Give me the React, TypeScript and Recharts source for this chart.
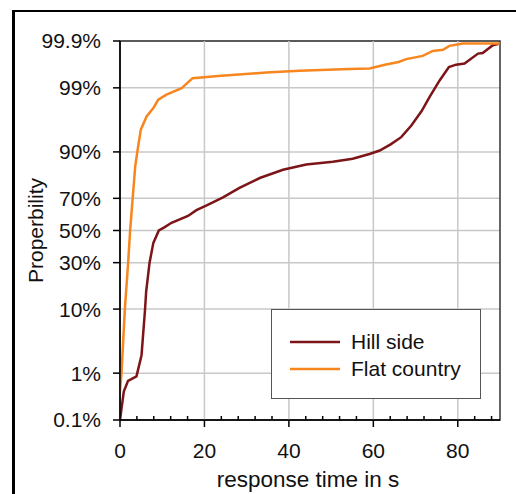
import React from "react";
import {
  LineChart,
  Line,
  XAxis,
  YAxis,
  CartesianGrid,
  ReferenceLine,
  ReferenceArea,
  Legend,
} from "recharts";

// response time in s / cumulative probability in %
const hillTime = [
  0, 0.9, 1.9, 3.9, 5.1, 5.9, 6.2, 7.0, 7.9, 9.2, 10.5, 12.2, 16.1, 18.1, 20.4,
  24.4, 28.3, 33.1, 38.6, 44.1, 50.4, 55.1, 59.1, 61.5, 64.1, 66.6, 69.0, 71.4,
  73.3, 75.7, 77.9, 79.6, 81.6, 84.8, 85.9, 88.3, 90,
];
const hillProb = [
  0.1, 0.43, 0.71, 0.87, 2.1, 9.4, 16, 30, 42, 50, 52, 55, 59.4, 63, 65.7, 70.5,
  75.6, 80.4, 83.9, 85.9, 86.9, 87.9, 89.4, 90.4, 92, 93.6, 95.65, 97.4, 98.52,
  99.28, 99.616, 99.658, 99.676, 99.804, 99.81, 99.874, 99.885,
];

const flatTime = [
  0, 0.36, 1.15, 1.93, 2.4, 3.0, 3.6, 4.1, 4.93, 6.3, 7.9, 9.05, 11.0, 14.6, 17.2,
  24, 34.6, 42.5, 54.3, 59.1, 63, 66, 67.8, 71.7, 74.1, 76.5, 78, 81.2, 90,
];
const flatProb = [
  0.44, 1, 10, 30, 50, 70, 85.1, 90, 95, 96.85, 97.7, 98.35, 98.66, 98.99, 99.35,
  99.42, 99.5, 99.54, 99.58, 99.59, 99.66, 99.7, 99.74, 99.78, 99.83, 99.84,
  99.87, 99.885, 99.885,
];

const seriesNames = ["Hill side", "Flat country"];
const probTicks = [0.1, 1, 10, 30, 50, 70, 90, 99, 99.9];
const probLabels = ["0.1%", "1%", "10%", "30%", "50%", "70%", "90%", "99%", "99.9%"];
const timeTicks = [0, 4, 8, 12, 16, 20, 24, 28, 32, 36, 40, 44, 48, 52, 56, 60, 64, 68, 72, 76, 80, 84, 88];
const timeLabels = [0, 20, 40, 60, 80];

const HILL = "#7d1518";
const FLAT = "#f7861f";
const FONT = "'Liberation Sans', Arial, sans-serif";

// inverse normal cdf (Acklam), used as the probability-paper scale
function probit(p: number) {
  const a = [-39.69683028665376, 220.9460984245205, -275.9285104469687, 138.357751867269, -30.66479806614716, 2.506628277459239];
  const b = [-54.47609879822406, 161.5858368580409, -155.6989798598866, 66.80131188771972, -13.28068155288572];
  const c = [-0.007784894002430293, -0.3223964580411365, -2.400758277161838, -2.549732539343734, 4.374664141464968, 2.938163982698783];
  const d = [0.007784695709041462, 0.3224671290700398, 2.445134137142996, 3.754408661907416];
  const pl = 0.02425;
  if (p < pl) {
    const q = Math.sqrt(-2 * Math.log(p));
    return (((((c[0] * q + c[1]) * q + c[2]) * q + c[3]) * q + c[4]) * q + c[5]) /
      ((((d[0] * q + d[1]) * q + d[2]) * q + d[3]) * q + 1);
  }
  if (p <= 1 - pl) {
    const q = p - 0.5;
    const r = q * q;
    return ((((((a[0] * r + a[1]) * r + a[2]) * r + a[3]) * r + a[4]) * r + a[5]) * q) /
      (((((b[0] * r + b[1]) * r + b[2]) * r + b[3]) * r + b[4]) * r + 1);
  }
  const q = Math.sqrt(-2 * Math.log(1 - p));
  return -(((((c[0] * q + c[1]) * q + c[2]) * q + c[3]) * q + c[4]) * q + c[5]) /
    ((((d[0] * q + d[1]) * q + d[2]) * q + d[3]) * q + 1);
}

const hillData = hillTime.map((t, i) => ({ t, z: probit(hillProb[i] / 100) }));
const flatData = flatTime.map((t, i) => ({ t, z: probit(flatProb[i] / 100) }));
const yTicks = probTicks.map((p) => probit(p / 100));

const XTick = (props: any) => {
  const { x, y, payload } = props;
  const major = timeLabels.includes(payload.value);
  if (!major) {
    return <line x1={x} x2={x} y1={y} y2={y - 4} stroke="#000" strokeWidth={1.5} />;
  }
  return (
    <g>
      <line x1={x} x2={x} y1={y} y2={y + 7} stroke="#000" strokeWidth={1.5} />
      <text x={x} y={y + 38} textAnchor="middle" fontSize={21} fontFamily={FONT} fill="#111">
        {payload.value}
      </text>
    </g>
  );
};

const renderLegend = (props: any) => {
  const items = [...(props.payload || [])].sort(
    (a: any, b: any) => seriesNames.indexOf(a.value) - seriesNames.indexOf(b.value)
  );
  return (
    <div
      style={{
        width: 210,
        height: 90,
        boxSizing: "border-box",
        border: "1px solid #555",
        background: "#fff",
        paddingTop: 18,
      }}
    >
      {items.map((entry: any) => (
        <div
          key={entry.value}
          style={{ display: "flex", alignItems: "center", height: 27, marginLeft: 18 }}
        >
          <svg width={50} height={4}>
            <line x1={0} x2={50} y1={2} y2={2} stroke={entry.color} strokeWidth={2.5} />
          </svg>
          <span
            style={{
              marginLeft: 11,
              fontSize: 21,
              fontFamily: FONT,
              color: "#111",
            }}
          >
            {entry.value}
          </span>
        </div>
      ))}
    </div>
  );
};

export default function App() {
  return (
    <div style={{ position: "absolute", left: 0, top: 0, width: 516, height: 494, background: "#fff" }}>
      <div
        style={{
          position: "absolute",
          left: 12,
          top: 10,
          width: 504,
          height: 484,
          boxSizing: "border-box",
          borderLeft: "3px solid #000",
          borderTop: "2px solid #000",
        }}
      />
      <div style={{ position: "absolute", left: 0, top: 0 }}>
        <LineChart
          width={516}
          height={494}
          margin={{ top: 41, right: 16, bottom: 24, left: 0 }}
        >
          <CartesianGrid vertical={false} stroke="#c8c8c8" strokeWidth={1.5} />
          {timeLabels.slice(1).map((v) => (
            <ReferenceLine key={v} x={v} stroke="#c8c8c8" strokeWidth={1.5} />
          ))}
          <XAxis
            type="number"
            dataKey="t"
            domain={[0, 90]}
            ticks={timeTicks}
            interval={0}
            allowDataOverflow
            tickLine={false}
            tickSize={0}
            tickMargin={0}
            height={50}
            tick={<XTick />}
            axisLine={{ stroke: "#000", strokeWidth: 1.5 }}
            label={(p: any) => {
              const vb = p.viewBox;
              return (
                <text
                  x={vb.x + vb.width / 2 - 2}
                  y={vb.y + 67}
                  textAnchor="middle"
                  fontSize={22.5}
                  fontFamily={FONT}
                  fill="#111"
                >
                  response time in s
                </text>
              );
            }}
          />
          <YAxis
            type="number"
            dataKey="z"
            domain={[yTicks[0], yTicks[yTicks.length - 1]]}
            ticks={yTicks}
            interval={0}
            allowDataOverflow
            width={120}
            tickSize={7}
            tickMargin={12}
            tickFormatter={(_v: number, i: number) => probLabels[i]}
            tick={{ fontSize: 21, fontFamily: FONT, fill: "#111" }}
            tickLine={{ stroke: "#000", strokeWidth: 1.5 }}
            axisLine={{ stroke: "#000", strokeWidth: 1.5 }}
            label={(p: any) => {
              const vb = p.viewBox;
              const cx = vb.x + 35;
              const cy = vb.y + vb.height / 2;
              return (
                <text
                  x={cx}
                  y={cy}
                  transform={`rotate(-90 ${cx} ${cy})`}
                  textAnchor="middle"
                  dominantBaseline="central"
                  fontSize={21}
                  fontFamily={FONT}
                  fill="#111"
                >
                  Properbility
                </text>
              );
            }}
          />
          <ReferenceArea
            x1={0}
            x2={90}
            y1={yTicks[0]}
            y2={yTicks[yTicks.length - 1]}
            fill="none"
            stroke="#333"
            strokeWidth={1.5}
          />
          <Line
            data={hillData}
            dataKey="z"
            name="Hill side"
            stroke={HILL}
            strokeWidth={2.5}
            dot={false}
            type="linear"
            isAnimationActive={false}
          />
          <Line
            data={flatData}
            dataKey="z"
            name="Flat country"
            stroke={FLAT}
            strokeWidth={2.5}
            dot={false}
            type="linear"
            isAnimationActive={false}
          />
          <Legend
            content={renderLegend}
            layout="horizontal"
            verticalAlign="middle"
            align="center"
            wrapperStyle={{ left: 271, top: 309, width: 210, height: 90 }}
          />
        </LineChart>
      </div>
    </div>
  );
}
